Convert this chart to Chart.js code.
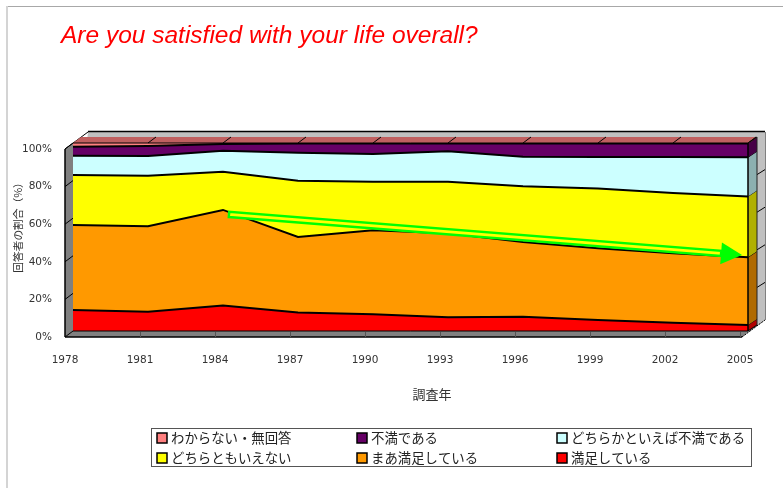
<!DOCTYPE html>
<html><head><meta charset="utf-8">
<style>html,body{margin:0;padding:0;background:#fff;overflow:hidden}canvas{display:block}</style>
<script src="https://cdn.jsdelivr.net/npm/chart.js@4"></script>
</head><body><canvas id="c" width="783" height="488"></canvas>
<script>
const years = ['1978','1981','1984','1987','1990','1993','1996','1999','2002','2005'];
const satisfied   = [11.2,10.3,13.5,9.9,8.9,7.3,7.6,5.9,4.4,3.2];
const fairly      = [45.2,45.4,50.9,40.1,44.7,44.7,39.7,38.1,36.9,36.0];
const neutral     = [26.6,26.9,20.3,29.9,25.8,27.4,29.7,31.8,32.1,32.4];
const ratherNot   = [10.2,10.5,11.2,14.9,14.7,16.2,15.7,16.8,19.2,20.8];
const dissatisfied= [4.8,5.3,3.6,4.9,5.6,4.2,7.1,7.2,7.2,7.4];
const unknown     = [2.0,1.6,0.5,0.2,0.1,0.2,0.2,0.2,0.2,0.2];
const names = ['満足している','まあ満足している','どちらともいえない','どちらかといえば不満である','不満である','わからない・無回答'];
const colors = ['#ff0000','#ff9900','#ffff00','#ccffff','#660066','#ff8080'];
const sideColors = ['#b00000','#b06a00','#b0b000','#8cb0b0','#470047','#c06060'];
const values = [satisfied,fairly,neutral,ratherNot,dissatisfied,unknown];
const titleText = 'Are you satisfied with your life overall?';
const xTitle = '調査年', yTitle = '回答者の割合（%）';
const arrowFrom = [2.08,62], arrowTo = [8.92,40.4];
const DX = 8, DY = -6, WX = 25, WY = -17, SX = 9;
const CJK = '"Noto Sans CJK JP"';

function poly(ctx, pts, fill, stroke, lw){
  ctx.beginPath(); pts.forEach((p,i)=> i?ctx.lineTo(p[0],p[1]):ctx.moveTo(p[0],p[1])); ctx.closePath();
  if(fill){ctx.fillStyle=fill;ctx.fill();}
  if(stroke){ctx.strokeStyle=stroke;ctx.lineWidth=lw||1;ctx.stroke();}
}
function line(ctx,a,b,c,d,col,lw){ctx.strokeStyle=col;ctx.lineWidth=lw||1;ctx.beginPath();ctx.moveTo(a,b);ctx.lineTo(c,d);ctx.stroke();}

const depth = {
  id:'depth',
  afterLayout(chart){ chart.titleBlock.left = 61; },
  beforeDatasetsDraw(chart){
    const ctx=chart.ctx,x=chart.scales.x,y=chart.scales.y;
    const L=x.left,R=x.right,T=y.getPixelForValue(100),B=y.getPixelForValue(0);
    ctx.save();
    line(ctx,7,6.5,783,6.5,'#a8a8a8',1);
    line(ctx,7,6,7,488,'#d4d4d4',2);
    // back wall
    poly(ctx,[[L+23,T+WY],[R+WX,T+WY],[R+WX,B+WY],[R,B],[L,B]],'#c0c0c0');
    line(ctx,L+23,T+WY-.5,R+WX,T+WY-.5,'#000',1.5);
    line(ctx,R+WX+.5,T+WY,R+WX+.5,B+WY,'#808080',1);
    // left wall
    poly(ctx,[[L,T],[L+DX+1,T+DY-1],[L+DX+1,B+DY],[L,B]],'#808080');
    line(ctx,L,T,L,B,'#000',1.5);
    line(ctx,L,T,L+23,T+WY,'#000',1);
    // floor
    poly(ctx,[[L,B],[L+DX,B+DY],[R+DX+SX,B+DY+DY],[R+2,B]],'#808080');
    poly(ctx,[[R+2,B],[R+WX,B+WY],[R+DX+SX,B+2*DY],[R+DX,B+DY]],'#909090');
    ctx.setLineDash([2,1]); line(ctx,R+2,B,R+WX,B+WY,'#000',1); ctx.setLineDash([]);
    line(ctx,L,B,R+2,B,'#000',1.5);
    y.ticks.forEach(t=>{
      const py=y.getPixelForValue(t.value);
      line(ctx,L,py,L+DX,py+DY,'#000',1);
      if(t.value>0&&t.value<100) line(ctx,R+DX+SX,py+2*DY,R+WX,py+WY,'#000',1);
    });
    years.forEach((_,i)=>{ if(i){const px=x.getPixelForValue(i); line(ctx,px+.5,B-5,px+.5,B,'#555',1);} });
    ctx.restore();
    ctx.save(); ctx.translate(DX,DY);
  },
  afterDatasetsDraw(chart){
    const ctx=chart.ctx,x=chart.scales.x,y=chart.scales.y;
    ctx.restore();
    ctx.save();
    const fx=x.right+DX, fy=v=>y.getPixelForValue(v)+DY;
    const t=fy(100);
    poly(ctx,[[x.left+DX,t],[x.left+2*DX,t+DY],[fx+SX,t+DY],[fx,t]],sideColors[5]);
    years.forEach((_,i)=>{ if(i){const px=x.getPixelForValue(i)+DX; line(ctx,px,t,px+DX,t+DY,'#000',1);} });
    let sum=0;
    values.forEach((v,i)=>{
      const a=sum,b=sum+v[v.length-1]; sum=b;
      poly(ctx,[[fx,fy(a)],[fx+SX,fy(a)+DY],[fx+SX,fy(b)+DY],[fx,fy(b)]],sideColors[i]);
      line(ctx,fx,fy(b),fx+SX,fy(b)+DY,'#000',1);
    });
    line(ctx,fx,fy(100),fx,fy(0),'#000',1.5);
    line(ctx,fx+SX,fy(100)+DY,fx+SX,fy(0)+DY,'#222',1);
    line(ctx,x.left+DX,fy(0),fx,fy(0),'#000',1);
    line(ctx,fx,fy(0),fx+SX,fy(0)+DY,'#000',1);
    line(ctx,x.left+DX,fy(100),fx,fy(100),'#000',1);
    // arrow
    const ax=x.getPixelForValue(arrowFrom[0])+DX, ay=y.getPixelForValue(arrowFrom[1])+DY;
    const bx=x.getPixelForValue(arrowTo[0])+DX, by=y.getPixelForValue(arrowTo[1])+DY;
    const len=Math.hypot(bx-ax,by-ay),ux=(bx-ax)/len,uy=(by-ay)/len,nx=-uy,ny=ux;
    const cx=bx-ux*21,cy=by-uy*21;
    poly(ctx,[[ax+nx*2.6,ay+ny*2.6],[cx+nx*2.6,cy+ny*2.6],[cx-nx*2.6,cy-ny*2.6],[ax-nx*2.6,ay-ny*2.6]],'#ffff00','#00ff00',2.4);
    poly(ctx,[[bx,by],[cx+nx*11,cy+ny*11],[cx-nx*11,cy-ny*11]],'#00ff00');
    ctx.restore();
  },
  afterDraw(chart){
    const ctx=chart.ctx; ctx.save();
    // axis titles
    ctx.fillStyle='#333'; ctx.textAlign='center'; ctx.textBaseline='middle';
    ctx.font='13px '+CJK; ctx.fillText(xTitle,432,394);
    ctx.save(); ctx.translate(18,225); ctx.rotate(-Math.PI/2);
    ctx.font='10.7px '+CJK; ctx.fillText(yTitle,0,0); ctx.restore();
    // legend
    ctx.strokeStyle='#555';ctx.lineWidth=1;ctx.strokeRect(151.5,428.5,600,38);
    const order=[5,4,3,2,1,0], cols=[157,357,557], rows=[438,458];
    ctx.font='13.4px '+CJK; ctx.textBaseline='middle'; ctx.textAlign='left';
    order.forEach((s,k)=>{
      const X=cols[k%3],Y=rows[Math.floor(k/3)];
      ctx.fillStyle=colors[s];ctx.fillRect(X,Y-5,10,10);
      ctx.strokeStyle='#000';ctx.lineWidth=1.5;ctx.strokeRect(X,Y-5,10,10);
      ctx.fillStyle='#222';ctx.fillText(names[s],X+14,Y);
    });
    ctx.restore();
  }
};

new Chart(document.getElementById('c'),{
  type:'line',
  data:{labels:years,datasets:values.map((v,i)=>({
    label:names[i],data:v,fill:i?'-1':'origin',backgroundColor:colors[i],
    borderColor:i===5?'rgba(0,0,0,0)':'#000',borderWidth:2,pointRadius:0,tension:0
  }))},
  plugins:[depth],
  options:{
    responsive:false,animation:false,
    layout:{padding:{left:0,right:43,top:0,bottom:87}},
    plugins:{
      legend:{display:false},tooltip:{enabled:false},
      title:{display:true,text:titleText,align:'start',color:'#ff0000',
        font:{family:'"Liberation Sans"',size:24.5,style:'italic',weight:'normal'},
        padding:{top:21.3,bottom:98.3}}
    },
    scales:{
      x:{type:'category',offset:false,grid:{display:false},border:{display:false},
        ticks:{color:'#333',autoSkip:false,maxRotation:0,padding:9,font:{family:'"DejaVu Sans"',size:10.5}},
        afterFit(s){s.height=64;}},
      y:{stacked:true,min:0,max:100,grid:{display:false,drawTicks:false},border:{display:false},
        ticks:{stepSize:20,color:'#333',padding:13,callback:v=>v+'%',font:{family:'"DejaVu Sans"',size:10.5}},
        afterFit(s){s.width=65;}}
    }
  }
});
</script></body></html>
